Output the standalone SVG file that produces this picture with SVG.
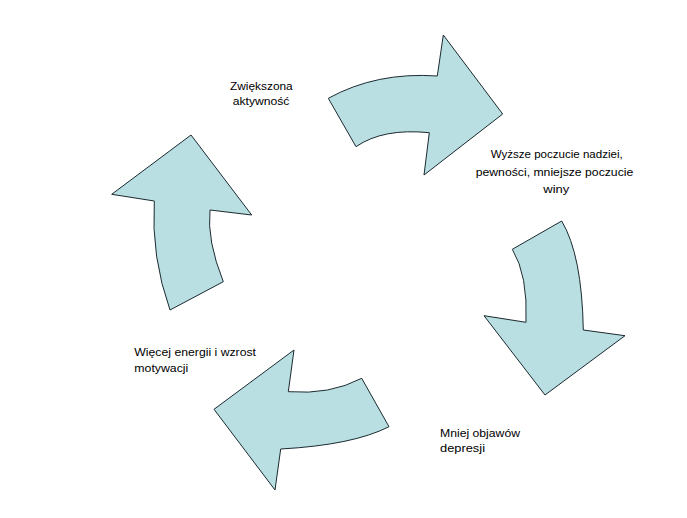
<svg xmlns="http://www.w3.org/2000/svg" width="687" height="518" viewBox="0 0 687 518">
<style>
.arrow{fill:#B9DFE2;stroke:#1a2a30;stroke-width:1;stroke-linejoin:miter}
.lbl{font-family:"Liberation Sans",Arial,sans-serif;font-size:11.5px;fill:#000}
.c{text-anchor:middle}
</style>
<rect width="687" height="518" fill="#fff"/>
<g id="connectors">
<path id="arrow-top" class="arrow" d="M328.3,98.3 Q376.7,71.7 437.3,76 L443.3,35 L502.7,114 L424,175 L429.3,132.7 Q383,128 356,146.7 Z"/>
<path id="arrow-right" class="arrow" d="M512.3,249.3 L561.7,221 Q582,255 583.3,330 L625,335.7 L545,395 L484,315.7 L526,322.3 Q528,275 512.3,249.3 Z"/>
<path id="arrow-bottom" class="arrow" d="M361.7,378.3 L389,426.7 Q353,445 280.7,449 L275,490 L214,409.3 L294,350 L288.3,391.7 Q330,395 361.7,378.3 Z"/>
<path id="arrow-left" class="arrow" d="M170,310 L223.3,281.7 Q206.7,240 210,210 L251.7,215 L191,135 L111.7,194.3 L154.3,201 Q151,256.7 170,310 Z"/>
</g>
<g id="node-zwiekszona">
<text class="lbl" x="230" y="89.5" textLength="62.7" lengthAdjust="spacingAndGlyphs">Zwiększona</text>
<text class="lbl" x="232.7" y="104.5" textLength="56.7" lengthAdjust="spacingAndGlyphs">aktywność</text>
</g>
<g id="node-wyzsze">
<text class="lbl" x="490.7" y="158.3" textLength="132" lengthAdjust="spacingAndGlyphs">Wyższe poczucie nadziei,</text>
<text class="lbl" x="475.7" y="176" textLength="157.6" lengthAdjust="spacingAndGlyphs">pewności, mniejsze poczucie</text>
<text class="lbl" x="543.3" y="193.3" textLength="26" lengthAdjust="spacingAndGlyphs">winy</text>
</g>
<g id="node-mniej">
<text class="lbl" x="440" y="436.7" textLength="80" lengthAdjust="spacingAndGlyphs">Mniej objawów</text>
<text class="lbl" x="440" y="452" textLength="45" lengthAdjust="spacingAndGlyphs">depresji</text>
</g>
<g id="node-wiecej">
<text class="lbl" x="134.3" y="355.5" textLength="121.7" lengthAdjust="spacingAndGlyphs">Więcej energii i wzrost</text>
<text class="lbl" x="134.3" y="371.5" textLength="54" lengthAdjust="spacingAndGlyphs">motywacji</text>
</g>
</svg>
